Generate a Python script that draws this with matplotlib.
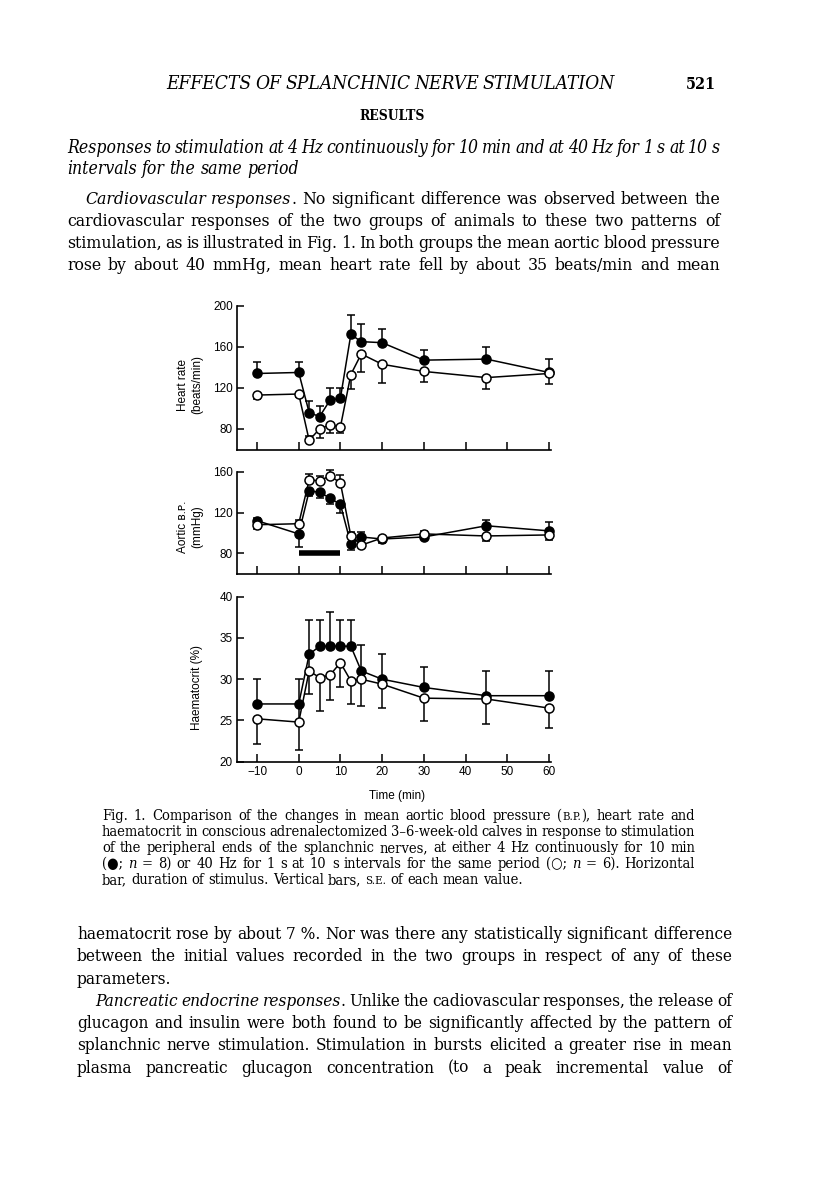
import matplotlib
matplotlib.use("Agg")
import matplotlib.pyplot as plt

W, H = 816, 1181

# ---- data ----
time = [-10, 0, 2.5, 5, 7.5, 10, 12.5, 15, 20, 30, 45, 60]
stim_start, stim_end, stim_level = 0, 10, 80

# heart rate (beats/min); filled = 4 Hz, open = 40 Hz bursts
hr_4hz = [134, 135, 96, 92, 108, 110, 172, 165, 164, 147, 148, 135]
hr_4hz_hi = [11, 10, 11, 10, 12, 10, 19, 17, 13, 10, 12, 13]
hr_4hz_lo = [0] * 12
hr_40hz = [113, 114, 69, 80, 84, 82, 133, 153, 143, 136, 130, 134]
hr_40hz_hi = [0, 0, 4, 0, 0, 0, 0, 0, 0, 0, 0, 0]
hr_40hz_lo = [4, 3, 0, 9, 8, 6, 14, 18, 18, 10, 11, 10]

# aortic blood pressure (mmHg)
bp_4hz = [112, 99, 141, 140, 134, 128, 89, 96, 94, 96, 107, 102]
bp_4hz_hi = [3, 0, 0, 0, 0, 0, 0, 5, 0, 0, 6, 9]
bp_4hz_lo = [0, 13, 5, 6, 6, 8, 6, 0, 0, 0, 0, 0]
bp_40hz = [108, 109, 152, 151, 156, 149, 97, 88, 95, 99, 97, 98]
bp_40hz_hi = [0, 4, 6, 5, 6, 8, 4, 0, 0, 3, 0, 0]
bp_40hz_lo = [4, 0, 0, 0, 0, 0, 0, 0, 5, 0, 5, 5]

# haematocrit (%)
hct_4hz = [27, 27, 33, 34, 34, 34, 34, 31, 30, 29, 28, 28]
hct_4hz_hi = [3, 3, 4.2, 3.2, 4.1, 3.2, 3.2, 3.1, 3, 2.5, 3, 3]
hct_4hz_lo = [0] * 12
hct_40hz = [25.2, 24.8, 31, 30.2, 30.5, 32, 29.8, 30, 29.4, 27.7, 27.6, 26.5]
hct_40hz_hi = [0, 2.2, 2, 0, 0, 0, 0, 0, 0, 0, 0, 0]
hct_40hz_lo = [3, 3.4, 2.8, 4, 3, 2.9, 2.8, 3.3, 2.9, 2.8, 3, 2.4]

x_ticks = [-10, 0, 10, 20, 30, 40, 50, 60]
x_ticklabels = ["\u221210", "0", "10", "20", "30", "40", "50", "60"]
hr_ticks = [80, 120, 160, 200]
bp_ticks = [80, 120, 160]
hct_ticks = [20, 25, 30, 35, 40]

# ---- page text ----
header = "*EFFECTS OF SPLANCHNIC NERVE STIMULATION*"
page_no = "521"
section = "RESULTS"
heading = ["*Responses to stimulation at 4 Hz continuously for 10 min and at 40 Hz for 1 s at 10 s*",
           "*intervals for the same period*"]
para_top = ["*Cardiovascular responses*. No significant difference was observed between the",
            "cardiovascular responses of the two groups of animals to these two patterns of",
            "stimulation, as is illustrated in Fig. 1. In both groups the mean aortic blood pressure",
            "rose by about 40 mmHg, mean heart rate fell by about 35 beats/min and mean"]
caption = ["Fig. 1. Comparison of the changes in mean aortic blood pressure (^B.P.^), heart rate and",
           "haematocrit in conscious adrenalectomized 3\u20136-week-old calves in response to stimulation",
           "of the peripheral ends of the splanchnic nerves, at either 4 Hz continuously for 10 min",
           "(\u25cf; *n* = 8) or 40 Hz for 1 s at 10 s intervals for the same period (\u25cb; *n* = 6). Horizontal",
           "bar, duration of stimulus. Vertical bars, ^S.E.^ of each mean value."]
para_bottom = ["haematocrit rose by about 7~%. Nor was there any statistically significant difference",
               "between the initial values recorded in the two groups in respect of any of these",
               "parameters.",
               "*Pancreatic endocrine responses*. Unlike the cadiovascular responses, the release of",
               "glucagon and insulin were both found to be significantly affected by the pattern of",
               "splanchnic nerve stimulation. Stimulation in bursts elicited a greater rise in mean",
               "plasma pancreatic glucagon concentration (to a peak incremental value of"]

SERIF = ["DejaVu Serif", "DejaVu Sans"]
SANS = ["Liberation Sans", "DejaVu Sans"]

fig = plt.figure(figsize=(W / 100, H / 100), dpi=100)
fig.patch.set_facecolor("white")
renderer = fig.canvas.get_renderer()


def parse(line):
    words, italic, small = [], False, False
    for raw in line.split(" "):
        pieces, buf = [], ""
        for ch in raw:
            if ch in "*^":
                if buf:
                    pieces.append((buf, italic, small))
                    buf = ""
                if ch == "*":
                    italic = not italic
                else:
                    small = not small
            else:
                buf += " " if ch == "~" else ch
        if buf:
            pieces.append((buf, italic, small))
        words.append(pieces)
    return words


def kw(italic, small, size, weight):
    return dict(family=SERIF, style="italic" if italic else "normal", stretch="condensed",
                size=size * (0.78 if small else 1.0), weight=weight)


def width(text, **k):
    t = fig.text(0, 0, text, **k)
    w = t.get_window_extent(renderer).width
    t.remove()
    return w


def word_width(word, size, weight):
    return sum(width(p[0], **kw(p[1], p[2], size, weight)) for p in word)


def draw_block(lines, x0, x1, y0, step, base, ragged=(), indent=None, weight="normal", min_gap=0.2):
    indent = indent or {}
    parsed = [parse(l) for l in lines]
    # one size per block: the largest that lets every justified line fit
    size = base
    for i, words in enumerate(parsed):
        if i in ragged:
            continue
        nat = sum(word_width(w, 10, weight) for w in words)
        avail = x1 - x0 - indent.get(i, 0)
        fit = 10 * avail / (nat + (len(words) - 1) * min_gap * 10 * 100 / 72)
        size = min(size, fit)
    k0 = kw(False, False, size, weight)
    space = width("a a", **k0) - width("aa", **k0)
    for i, words in enumerate(parsed):
        y = y0 + i * step
        x = x0 + indent.get(i, 0)
        ws = [word_width(w, size, weight) for w in words]
        if i in ragged or len(words) == 1:
            gap = space
        else:
            gap = (x1 - x - sum(ws)) / (len(words) - 1)
        for w, wd in zip(words, ws):
            xx = x
            for text, it, sm in w:
                k = kw(it, sm, size, weight)
                fig.text(xx / W, 1 - y / H, text, ha="left", va="baseline", **k)
                xx += width(text, **k)
            x += wd + gap


# running head, section title and text above the figure
draw_block([header], 166, 615, 89, 0, 40)
draw_block([page_no], 686, 716, 89, 0, 40, weight="bold")
draw_block([section], 359, 424, 120, 0, 40, weight="bold")
draw_block(heading, 67, 720, 153, 21, 14, ragged={1})
draw_block(para_top, 67, 720, 204, 22, 14, indent={0: 18})

# ---- figure ----
ax_left, ax_right = 237, 551
xlim = (-14.8, 60.5)


def add_panel(top, bottom, ylim, yticks, yvals, show_x):
    ax = fig.add_axes([ax_left / W, 1 - bottom / H, (ax_right - ax_left) / W, (bottom - top) / H])
    ax.set_xlim(*xlim)
    ax.set_ylim(*ylim)
    ax.patch.set_alpha(0)
    for s in ("top", "right"):
        ax.spines[s].set_visible(False)
    for s in ("left", "bottom"):
        ax.spines[s].set_linewidth(1.2)
    ax.set_xticks(x_ticks)
    ax.set_yticks(yticks)
    if show_x:
        ax.set_xticklabels(x_ticklabels, family=SANS, fontsize=8.5)
    else:
        ax.set_xticklabels([])
    ax.set_yticklabels([str(v) for v in yticks], family=SANS, fontsize=8.5)
    ax.tick_params(direction="in", length=5, width=1.1, pad=3)
    ax.tick_params(axis="x", length=6)
    filled, f_lo, f_hi, opened, o_lo, o_hi = yvals
    common = dict(fmt="-o", color="black", ms=6.5, mew=1.1, lw=1.1, elinewidth=1.1,
                  capsize=2.6, capthick=1.1, clip_on=False)
    ax.errorbar(time, filled, yerr=[f_lo, f_hi], mfc="black", mec="black", zorder=3, **common)
    ax.errorbar(time, opened, yerr=[o_lo, o_hi], mfc="white", mec="black", zorder=4, **common)
    return ax


ax_hr = add_panel(305.7, 449.5, (60, 200), hr_ticks,
                  (hr_4hz, hr_4hz_lo, hr_4hz_hi, hr_40hz, hr_40hz_lo, hr_40hz_hi), False)
ax_bp = add_panel(471.7, 573.7, (60, 160), bp_ticks,
                  (bp_4hz, bp_4hz_lo, bp_4hz_hi, bp_40hz, bp_40hz_lo, bp_40hz_hi), False)
ax_bp.plot([stim_start, stim_end], [stim_level, stim_level], color="black", lw=4,
           solid_capstyle="butt", zorder=2)
ax_hct = add_panel(596.7, 761.7, (20, 40), hct_ticks,
                   (hct_4hz, hct_4hz_lo, hct_4hz_hi, hct_40hz, hct_40hz_lo, hct_40hz_hi), True)

lab = dict(family=SANS, fontsize=8.5, rotation=90, ha="center", va="center",
           multialignment="center", linespacing=1.25)
fig.text(190 / W, 1 - 385 / H, "Heart rate\n(beats/min)", **lab)
fig.text(190 / W, 1 - 527 / H, "Aortic \u0299.\u1d18.\n(mmHg)", **lab)
fig.text(197 / W, 1 - 687 / H, "Haematocrit (%)", **lab)
fig.text(397 / W, 1 - 796 / H, "Time (min)", family=SANS, fontsize=8.5, ha="center", va="center")

# ---- caption and following text ----
draw_block(caption, 102, 695, 820, 16, 12, ragged={4})
draw_block(para_bottom, 77, 732, 939, 22.3, 14, ragged={2}, indent={3: 18})

fig.savefig("out.png", dpi=100, facecolor="white")
